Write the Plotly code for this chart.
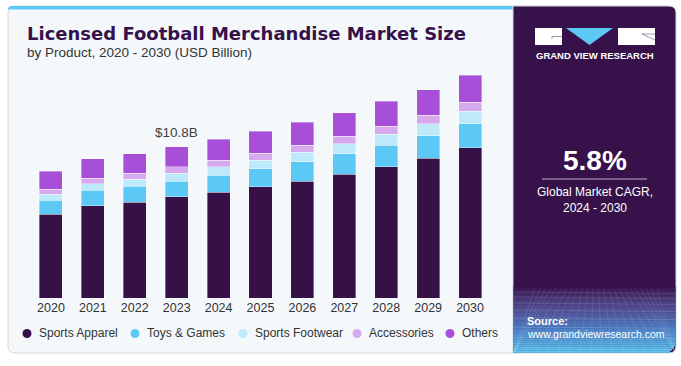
import plotly.graph_objects as go

W, H = 681, 366

# ---------------- data ----------------
years = ["2020", "2021", "2022", "2023", "2024", "2025", "2026", "2027", "2028", "2029", "2030"]
sports_apparel = [5.98, 6.60, 6.84, 7.22, 7.55, 7.93, 8.34, 8.83, 9.38, 9.97, 10.73]
toys_games = [1.00, 1.10, 1.14, 1.12, 1.21, 1.30, 1.40, 1.47, 1.52, 1.61, 1.71]
sports_footwear = [0.43, 0.45, 0.50, 0.57, 0.61, 0.62, 0.67, 0.71, 0.81, 0.85, 0.90]
accessories = [0.36, 0.41, 0.43, 0.45, 0.46, 0.50, 0.50, 0.53, 0.57, 0.64, 0.64]
others = [1.28, 1.40, 1.40, 1.45, 1.52, 1.55, 1.66, 1.71, 1.78, 1.81, 1.92]

series_names = ["Sports Apparel", "Toys & Games", "Sports Footwear", "Accessories", "Others"]
series_values = [sports_apparel, toys_games, sports_footwear, accessories, others]
series_colors = ["#361148", "#5bc8f5", "#bde9fa", "#d6a8ee", "#a74fd8"]

highlight_year = "2023"
highlight_label = "$10.8B"
cagr_value = "5.8%"
cagr_text = "Global Market CAGR,<br>2024 - 2030"

# ---------------- layout helpers ----------------
L, R, T, B = 30, 190, 74, 68
PW = W - L - R
PH = H - T - B


def px(x):
    return (x - L) / PW


def py(y):
    return (H - B - y) / PH


def rrect(x0, y0, x1, y1, r=(6, 6, 6, 6)):
    tl, tr, br, bl = r
    p = []
    p.append(f"M{px(x0 + tl)},{py(y0)}")
    p.append(f"L{px(x1 - tr)},{py(y0)}")
    if tr:
        p.append(f"Q{px(x1)},{py(y0)} {px(x1)},{py(y0 + tr)}")
    p.append(f"L{px(x1)},{py(y1 - br)}")
    if br:
        p.append(f"Q{px(x1)},{py(y1)} {px(x1 - br)},{py(y1)}")
    p.append(f"L{px(x0 + bl)},{py(y1)}")
    if bl:
        p.append(f"Q{px(x0)},{py(y1)} {px(x0)},{py(y1 - bl)}")
    p.append(f"L{px(x0)},{py(y0 + tl)}")
    if tl:
        p.append(f"Q{px(x0)},{py(y0)} {px(x0 + tl)},{py(y0)}")
    p.append("Z")
    return " ".join(p)


shapes = []
annotations = []

# card background
shapes.append(dict(type="path", xref="paper", yref="paper", layer="below",
                   path=rrect(8, 6, 520, 353, (7, 0, 0, 7)),
                   fillcolor="#f4f8fb", line=dict(color="#d3d9de", width=1)))
# top blue strip
shapes.append(dict(type="path", xref="paper", yref="paper", layer="below",
                   path=rrect(8, 6, 520, 9.5, (3.5, 0, 0, 0)),
                   fillcolor="#5cc9f4", line=dict(width=0)))

# right panel
PX0, PX1, PY0, PY1 = 513, 676, 6, 353
shapes.append(dict(type="path", xref="paper", yref="paper", layer="below",
                   path=rrect(PX0, PY0, PX1, PY1, (0, 7, 7, 0)),
                   fillcolor="#37124a", line=dict(color="#d3d9de", width=1)))

# gradient band at bottom of panel
g_top, g_bot = 286, 352.5
stops = [(0.0, (55, 18, 74)), (0.3, (82, 72, 140)), (0.65, (78, 130, 200)), (1.0, (92, 200, 242))]


def grad(t):
    for i in range(len(stops) - 1):
        a, ca = stops[i]
        b, cb = stops[i + 1]
        if a <= t <= b:
            f = (t - a) / (b - a)
            return tuple(int(ca[k] + (cb[k] - ca[k]) * f) for k in range(3))
    return stops[-1][1]


nb = 33
for i in range(nb):
    y0 = g_top + (g_bot - g_top) * i / nb
    y1 = g_top + (g_bot - g_top) * (i + 1) / nb
    c = grad((i + 0.5) / nb)
    x1 = PX1 - 0.5
    if y1 > g_bot - 6:
        x1 = PX1 - 0.5 - (6 - (g_bot - y1)) * 0.9
    shapes.append(dict(type="rect", xref="paper", yref="paper", layer="below",
                       x0=px(PX0 + 0.5), x1=px(x1), y0=py(y0), y1=py(y1 + 0.3),
                       fillcolor=f"rgb{c}", line=dict(width=0)))

# mesh lines in gradient
for yy in [292, 297, 303, 310, 318, 327, 337, 348]:
    shapes.append(dict(type="line", xref="paper", yref="paper", layer="below",
                       x0=px(PX0 + 1), x1=px(PX1 - 1), y0=py(yy), y1=py(yy + 1.5),
                       line=dict(color="rgba(255,255,255,0.16)", width=0.7)))
vx, vy = 595, 230
for xb in range(470, 730, 11):
    ya, yb = 289, 352
    xa = vx + (xb - vx) * (ya - vy) / (yb - vy)
    shapes.append(dict(type="line", xref="paper", yref="paper", layer="below",
                       x0=px(max(PX0 + 1, min(PX1 - 1, xa))), y0=py(ya),
                       x1=px(max(PX0 + 1, min(PX1 - 1, xb))), y1=py(yb),
                       line=dict(color="rgba(255,255,255,0.14)", width=0.7)))

# logo
shapes.append(dict(type="rect", xref="paper", yref="paper", layer="below",
                   x0=px(535), x1=px(562), y0=py(28), y1=py(45),
                   fillcolor="#ffffff", line=dict(width=0)))
shapes.append(dict(type="path", xref="paper", yref="paper", layer="below",
                   path=f"M{px(566)},{py(28)} L{px(613)},{py(28)} L{px(589.5)},{py(45)} Z",
                   fillcolor="#5cc9f4", line=dict(width=0)))
shapes.append(dict(type="rect", xref="paper", yref="paper", layer="below",
                   x0=px(618), x1=px(655), y0=py(28), y1=py(45),
                   fillcolor="#ffffff", line=dict(width=0)))
shapes.append(dict(type="path", xref="paper", yref="paper", layer="below",
                   path=f"M{px(562)},{py(36.5)} L{px(552)},{py(36.5)} L{px(552)},{py(39)}",
                   fillcolor="rgba(0,0,0,0)", line=dict(color="#8a7f95", width=0.8)))
shapes.append(dict(type="path", xref="paper", yref="paper", layer="below",
                   path=f"M{px(655)},{py(34)} L{px(642)},{py(34)} L{px(655)},{py(40)}",
                   fillcolor="rgba(0,0,0,0)", line=dict(color="#8a7f95", width=0.8)))
annotations.append(dict(xref="paper", yref="paper", x=px(595), y=py(55.5),
                        text="GRAND VIEW RESEARCH", showarrow=False,
                        xanchor="center", yanchor="middle",
                        font=dict(family="Liberation Sans", size=9.5, color="#ffffff", weight="bold")))

# CAGR
annotations.append(dict(xref="paper", yref="paper", x=px(595), y=py(160),
                        text=cagr_value, showarrow=False, xanchor="center", yanchor="middle",
                        font=dict(family="Liberation Sans", size=28, color="#ffffff", weight="bold")))
shapes.append(dict(type="line", xref="paper", yref="paper", layer="below",
                   x0=px(542), x1=px(647), y0=py(179), y1=py(179),
                   line=dict(color="#b9b0c3", width=1)))
annotations.append(dict(xref="paper", yref="paper", x=px(595), y=py(199.5),
                        text=cagr_text, showarrow=False, xanchor="center", yanchor="middle",
                        font=dict(family="Liberation Sans", size=12, color="#ffffff")))

# source
annotations.append(dict(xref="paper", yref="paper", x=px(525), y=py(321),
                        text="<b>Source:</b>", showarrow=False, xanchor="left", yanchor="middle",
                        font=dict(family="Liberation Sans", size=11, color="#ffffff")))
annotations.append(dict(xref="paper", yref="paper", x=px(525), y=py(334),
                        text="www.grandviewresearch.com", showarrow=False, xanchor="left", yanchor="middle",
                        font=dict(family="Liberation Sans", size=10.5, color="#ffffff")))

# title
annotations.append(dict(xref="paper", yref="paper", x=px(25), y=py(34),
                        text="Licensed Football Merchandise Market Size", showarrow=False,
                        xanchor="left", yanchor="middle",
                        font=dict(family="DejaVu Sans", size=18, color="#35124a", weight="bold")))
annotations.append(dict(xref="paper", yref="paper", x=px(25), y=py(52.5),
                        text="by Product, 2020 - 2030 (USD Billion)", showarrow=False,
                        xanchor="left", yanchor="middle",
                        font=dict(family="Liberation Sans", size=13.5, color="#333333")))

# legend (custom)
legend_x = [27, 135, 243, 357, 450]
for name, color, lx in zip(series_names, series_colors, legend_x):
    shapes.append(dict(type="circle", xref="paper", yref="paper", layer="below",
                       x0=px(lx - 4.5), x1=px(lx + 4.5), y0=py(333.5 - 4.5), y1=py(333.5 + 4.5),
                       fillcolor=color, line=dict(width=0)))
    annotations.append(dict(xref="paper", yref="paper", x=px(lx + 9.5), y=py(333),
                            text=name, showarrow=False, xanchor="left", yanchor="middle",
                            font=dict(family="Liberation Sans", size=12, color="#333333")))

# ---------------- traces ----------------
fig = go.Figure()
for name, vals, color in zip(series_names, series_values, series_colors):
    fig.add_trace(go.Bar(x=years, y=vals, name=name,
                         marker=dict(color=color, line=dict(color="rgba(255,255,255,0.45)", width=0.8)),
                         hoverinfo="skip"))

hi = years.index(highlight_year)
total_hi = sum(v[hi] for v in series_values)
annotations.append(dict(x=hi, y=total_hi, xref="x", yref="y",
                        text=highlight_label, showarrow=False, xanchor="center", yanchor="bottom",
                        yshift=5, font=dict(family="Liberation Sans", size=13.5, color="#404040")))

fig.update_layout(
    width=W, height=H,
    margin=dict(l=L, r=R, t=T, b=B, pad=0, autoexpand=False),
    barmode="stack", bargap=0.45,
    showlegend=False,
    paper_bgcolor="#ffffff", plot_bgcolor="rgba(0,0,0,0)",
    shapes=shapes, annotations=annotations,
    xaxis=dict(type="category", range=[-0.5, 10.5], showgrid=False, zeroline=False, showline=False,
               ticks="", tickfont=dict(family="Liberation Sans", size=12.5, color="#333333")),
    yaxis=dict(range=[0, 16], visible=False),
)

fig.write_html("out.html", config={"displayModeBar": False},
               post_script="document.body.style.margin='0';document.body.style.overflow='hidden';")
